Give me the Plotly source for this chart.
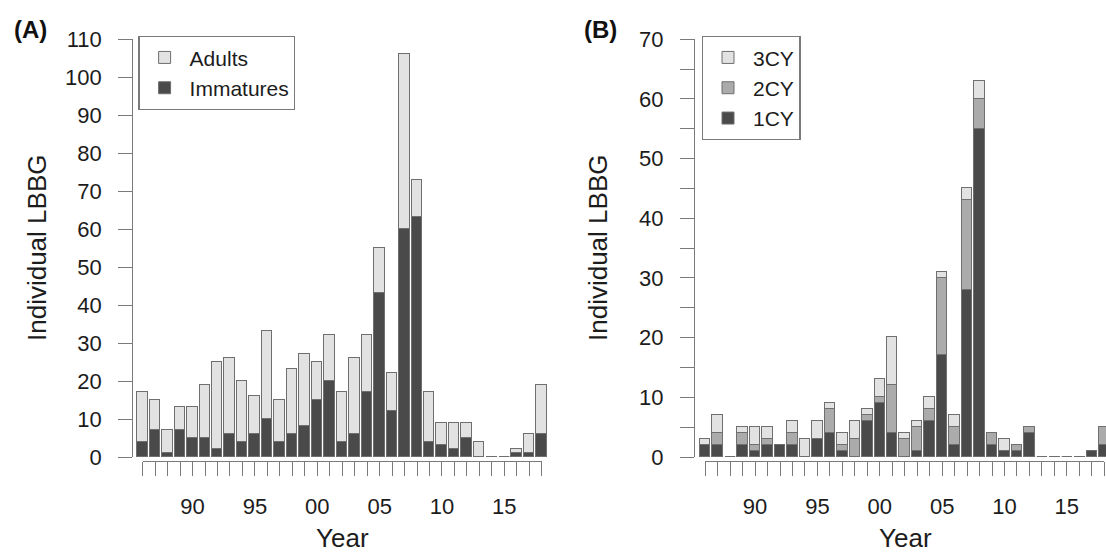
import plotly.graph_objects as go

W, H = 1106, 555

years = list(range(1986, 2019))

# Panel A: adults + immatures
immatures = [4, 7, 1, 7, 5, 5, 2, 6, 4, 6, 10, 4, 6, 8, 15, 20, 4, 6, 17, 43, 12, 60, 63, 4, 3, 2, 5, 0, 0, 0, 1, 1, 6]
adults    = [13, 8, 6, 6, 8, 14, 23, 20, 16, 10, 23, 11, 17, 19, 10, 12, 13, 20, 15, 12, 10, 46, 10, 13, 6, 7, 4, 4, 0, 0, 1, 5, 13]

# Panel B: immatures by calendar-year age class
cy1 = [2, 2, 0, 2, 1, 2, 2, 2, 0, 3, 4, 1, 0, 6, 9, 4, 0, 1, 6, 17, 2, 28, 55, 2, 1, 1, 4, 0, 0, 0, 0, 1, 2]
cy2 = [0, 2, 0, 2, 1, 1, 0, 2, 0, 0, 4, 1, 3, 1, 1, 8, 3, 4, 2, 13, 3, 15, 5, 2, 0, 1, 1, 0, 0, 0, 0, 0, 3]
cy3 = [1, 3, 0, 1, 3, 2, 0, 2, 3, 3, 1, 2, 3, 1, 3, 8, 1, 1, 2, 1, 2, 2, 3, 0, 2, 0, 0, 0, 0, 0, 0, 0, 0]

x_tick_years = [1990, 1995, 2000, 2005, 2010, 2015]
x_tick_labels = ["90", "95", "00", "05", "10", "15"]
yA_ticks = list(range(0, 111, 10))
yB_ticks = list(range(0, 71, 5))
yB_labels = [str(v) if v % 10 == 0 else "" for v in yB_ticks]

LIGHT, MID, DARK = "#e2e2e2", "#ababab", "#4a4a4a"
EDGE = "#6f6f6f"
AXC = "#7a7a7a"
TXT = "#1c1c1c"
FONT = "Liberation Sans, Arial, sans-serif"


def px(p):
    return p / W


def py(p):
    return 1 - p / H


PITCH = 12.47
BARW = 0.84

fig = go.Figure()

fig.add_trace(go.Bar(x=years, y=immatures, name="Immatures", marker=dict(color=DARK, line=dict(color=EDGE, width=1)),
                     width=BARW, xaxis="x", yaxis="y", legend="legend"))
fig.add_trace(go.Bar(x=years, y=adults, name="Adults", marker=dict(color=LIGHT, line=dict(color=EDGE, width=1)),
                     width=BARW, xaxis="x", yaxis="y", legend="legend"))

fig.add_trace(go.Bar(x=years, y=cy1, name="1CY", marker=dict(color=DARK, line=dict(color=EDGE, width=1)),
                     width=BARW, xaxis="x2", yaxis="y2", legend="legend2"))
fig.add_trace(go.Bar(x=years, y=cy2, name="2CY", marker=dict(color=MID, line=dict(color=EDGE, width=1)),
                     width=BARW, xaxis="x2", yaxis="y2", legend="legend2"))
fig.add_trace(go.Bar(x=years, y=cy3, name="3CY", marker=dict(color=LIGHT, line=dict(color=EDGE, width=1)),
                     width=BARW, xaxis="x2", yaxis="y2", legend="legend2"))


def zero_segments(totals):
    xs, ys = [], []
    for yr, t in zip(years, totals):
        if t == 0:
            xs += [yr - BARW / 2, yr + BARW / 2, None]
            ys += [0, 0, None]
    return xs, ys


zxA, zyA = zero_segments([a + b for a, b in zip(immatures, adults)])
zxB, zyB = zero_segments([a + b + c for a, b, c in zip(cy1, cy2, cy3)])
fig.add_trace(go.Scatter(x=zxA, y=zyA, mode="lines", line=dict(color=EDGE, width=1.5), showlegend=False,
                         hoverinfo="skip", cliponaxis=False, xaxis="x", yaxis="y"))
fig.add_trace(go.Scatter(x=zxB, y=zyB, mode="lines", line=dict(color=EDGE, width=1.5), showlegend=False,
                         hoverinfo="skip", cliponaxis=False, xaxis="x2", yaxis="y2"))

fig.add_trace(go.Scatter(x=[years[0]], y=[0], mode="markers", marker=dict(opacity=0), showlegend=False,
                         hoverinfo="skip", xaxis="x3", yaxis="y3"))
fig.add_trace(go.Scatter(x=[years[0]], y=[0], mode="markers", marker=dict(opacity=0), showlegend=False,
                         hoverinfo="skip", xaxis="x4", yaxis="y4"))

# geometry (pixels)
A_axis, A_c0 = 133.3, 142.7
B_axis, B_c0 = 695.0, 705.2
y_top, y_bot, x_line = 39.3, 457.0, 461.0
A_right = 560.0

ydom = [py(y_bot), py(y_top)]
xticktext = [x_tick_labels[x_tick_years.index(y)] if y in x_tick_years else "" for y in years]

yaxis_common = dict(showline=True, linecolor=AXC, linewidth=1.3, ticks="outside", ticklen=14, tickwidth=1.3,
                    tickcolor=AXC, showgrid=False, zeroline=False, tickfont=dict(family=FONT, size=22, color=TXT),
                    ticklabelstandoff=12, fixedrange=True, automargin=False)
yearaxis_common = dict(showline=True, linecolor=AXC, linewidth=1.3, ticks="outside", ticklen=14, tickwidth=1.3,
                       tickcolor=AXC, showgrid=False, zeroline=False, tickfont=dict(family=FONT, size=22, color=TXT),
                       tickmode="array", tickvals=years, ticktext=xticktext, range=[years[0], years[-1]],
                       ticklabelstandoff=11, automargin=False)
hidden_y = dict(visible=False, range=[0, 1], domain=[py(x_line), py(x_line) + 0.05], automargin=False)

fig.update_layout(
    template="none",
    width=W, height=H, margin=dict(l=0, r=0, t=0, b=0, pad=0), autosize=False,
    paper_bgcolor="white", plot_bgcolor="rgba(0,0,0,0)", barmode="stack", bargap=0,
    font=dict(family=FONT, color=TXT),
    xaxis=dict(domain=[px(A_axis), px(A_right)], visible=False, automargin=False,
               range=[years[0] - (A_c0 - A_axis) / PITCH, years[0] + (A_right - A_c0) / PITCH], anchor="y"),
    yaxis=dict(domain=ydom, range=[0, 110], tickmode="array", tickvals=yA_ticks, anchor="x", **yaxis_common),
    xaxis2=dict(domain=[px(B_axis), 1.0], visible=False, automargin=False,
                range=[years[0] - (B_c0 - B_axis) / PITCH, years[0] + (W - B_c0) / PITCH], anchor="y2"),
    yaxis2=dict(domain=ydom, range=[0, 70], tickmode="array", tickvals=yB_ticks, ticktext=yB_labels, anchor="x2",
                **yaxis_common),
    xaxis3=dict(domain=[px(A_c0), px(A_c0 + PITCH * (years[-1] - years[0]))], anchor="y3", **yearaxis_common),
    yaxis3=dict(anchor="x3", **hidden_y),
    xaxis4=dict(domain=[px(B_c0), px(B_c0 + PITCH * (years[-1] - years[0]))], anchor="y4", **yearaxis_common),
    yaxis4=dict(anchor="x4", **hidden_y),
    legend=dict(x=px(138.3), y=py(36), xanchor="left", yanchor="top", traceorder="reversed",
                bordercolor=AXC, borderwidth=1.3, bgcolor="white", itemwidth=40,
                font=dict(family=FONT, size=21, color=TXT)),
    legend2=dict(x=px(701.7), y=py(36), xanchor="left", yanchor="top", traceorder="reversed",
                 bordercolor=AXC, borderwidth=1.3, bgcolor="white", itemwidth=40,
                 font=dict(family=FONT, size=21, color=TXT)),
    showlegend=True,
)

ann = dict(showarrow=False, xref="paper", yref="paper", font=dict(family=FONT, size=26, color=TXT))
fig.add_annotation(text="Individual LBBG", x=px(37), y=py(248), textangle=-90, xanchor="center", yanchor="middle", **ann)
fig.add_annotation(text="Individual LBBG", x=px(598), y=py(248), textangle=-90, xanchor="center", yanchor="middle", **ann)
fig.add_annotation(text="Year", x=px(342), y=0, xanchor="center", yanchor="bottom", **ann)
fig.add_annotation(text="Year", x=px(905), y=0, xanchor="center", yanchor="bottom", **ann)
fig.add_annotation(text="<b>(A)</b>", x=px(30.5), y=py(29), xanchor="center", yanchor="middle",
                   showarrow=False, xref="paper", yref="paper", font=dict(family=FONT, size=24, color="#111111"))
fig.add_annotation(text="<b>(B)</b>", x=px(600), y=py(29), xanchor="center", yanchor="middle",
                   showarrow=False, xref="paper", yref="paper", font=dict(family=FONT, size=24, color="#111111"))

fig.write_html("out.html", config={"displayModeBar": False},
               post_script="document.body.style.margin='0';document.body.style.overflow='hidden';")
